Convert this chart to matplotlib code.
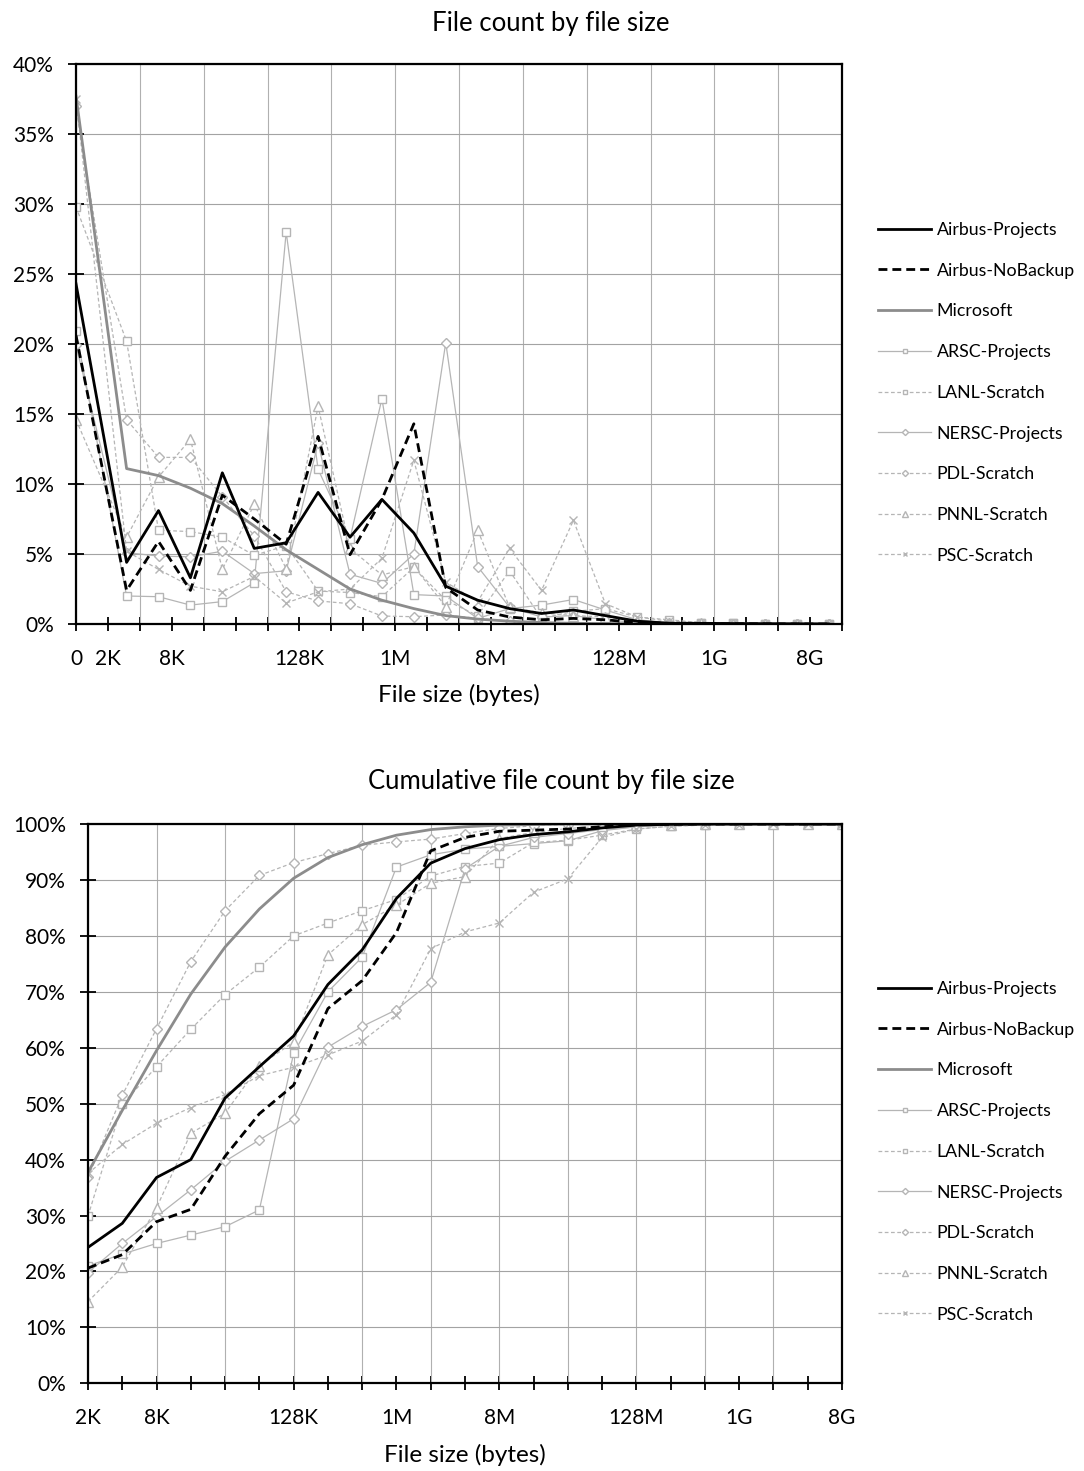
import numpy as np
import matplotlib.pyplot as plt
from matplotlib.ticker import PercentFormatter, NullFormatter

plt.rcParams['font.family'] = ['Lato', 'DejaVu Sans']

# series, in legend order
names = ['Airbus-Projects', 'Airbus-NoBackup', 'Microsoft', 'ARSC-Projects',
         'LANL-Scratch', 'NERSC-Projects', 'PDL-Scratch', 'PNNL-Scratch', 'PSC-Scratch']

# point positions in KB (first bin = small files, then bins 2K-4K, 4K-8K, ... plotted at 1.5x lower edge)
top_x_kb = [1, 3, 6, 12, 24, 48, 96, 192, 384, 768, 1536, 3072, 6144, 12288, 24576,
            49152, 98304, 196608, 393216, 786432, 1572864, 3145728, 6291456, 12582912]
bottom_x_kb = [2, 4, 8, 16, 32, 64, 128, 256, 512, 1024, 2048, 4096, 8192, 16384, 32768,
               65536, 131072, 262144, 524288, 1048576, 2097152, 4194304, 8388608]

# file count share per bin (%)
top_airbus_proj = [24.3, 4.4, 8.1, 3.3, 10.8, 5.4, 5.8, 9.4, 6.2, 8.9, 6.5, 2.7, 1.7, 1.1,
                   0.75, 1.0, 0.6, 0.2, 0.05, 0.05, 0.03, 0.02, 0.01, 0.0]
top_airbus_nob = [20.6, 2.4, 5.9, 2.4, 9.2, 7.5, 5.7, 13.4, 4.95, 8.9, 14.3, 2.6, 1.0, 0.5,
                  0.3, 0.4, 0.3, 0.1, 0.05, 0.02, 0.01, 0.01, 0.0, 0.0]
top_microsoft = [37.7, 11.1, 10.6, 9.7, 8.6, 7.0, 5.3, 3.9, 2.5, 1.7, 1.1, 0.6, 0.35, 0.2,
                 0.1, 0.05, 0.03, 0.02, 0.01, 0.0, 0.0, 0.0, 0.0, 0.0]
top_arsc = [20.9, 2.0, 1.95, 1.35, 1.6, 2.95, 28.0, 11.05, 6.1, 16.1, 2.1, 2.0, 0.4, 1.1,
            1.35, 1.75, 1.0, 0.3, 0.1, 0.1, 0.05, 0.02, 0.01, 0.0]
top_lanl = [29.8, 20.2, 6.7, 6.6, 6.2, 4.9, 5.6, 2.35, 2.25, 1.95, 4.05, 1.7, 0.6, 3.8,
            0.4, 0.9, 1.1, 0.5, 0.3, 0.1, 0.05, 0.02, 0.01, 0.0]
top_nersc = [19.9, 5.1, 4.85, 4.8, 5.2, 3.6, 3.8, 12.9, 3.55, 2.9, 5.0, 20.1, 4.1, 1.2,
             0.5, 0.6, 0.3, 0.1, 0.05, 0.02, 0.01, 0.0, 0.0, 0.0]
top_pdl = [37.0, 14.6, 11.9, 11.9, 9.1, 6.3, 2.3, 1.65, 1.45, 0.57, 0.52, 0.65, 0.4, 0.2,
           0.1, 0.05, 0.03, 0.02, 0.01, 0.0, 0.0, 0.0, 0.0, 0.0]
top_pnnl = [14.6, 6.2, 10.5, 13.2, 3.9, 8.55, 3.95, 15.55, 5.4, 3.5, 4.1, 1.25, 6.7, 1.2,
            0.8, 0.6, 0.5, 0.2, 0.1, 0.05, 0.02, 0.01, 0.0, 0.0]
top_psc = [37.5, 5.2, 3.9, 2.7, 2.3, 3.4, 1.5, 2.3, 2.5, 4.7, 11.7, 3.0, 1.6, 5.4,
           2.4, 7.4, 1.45, 0.5, 0.2, 0.1, 0.05, 0.02, 0.01, 0.0]

# cumulative file count (%)
cum_airbus_proj = [24.3, 28.6, 36.8, 40.0, 51.0, 56.6, 62.1, 71.3, 77.5, 86.7, 93.0, 95.6,
                   97.2, 98.1, 98.6, 99.3, 99.8, 99.95, 100, 100, 100, 100, 100]
cum_airbus_nob = [20.6, 23.0, 28.9, 31.1, 40.6, 48.2, 53.3, 67.0, 72.0, 80.6, 95.2, 97.6,
                  98.7, 98.9, 99.1, 99.5, 99.9, 99.95, 100, 100, 100, 100, 100]
cum_microsoft = [37.7, 48.8, 59.5, 69.6, 78.0, 84.8, 90.3, 94.0, 96.3, 98.0, 99.0, 99.5,
                 99.8, 99.9, 100, 100, 100, 100, 100, 100, 100, 100, 100]
cum_arsc = [21.0, 23.1, 25.0, 26.5, 28.0, 31.0, 59.0, 70.0, 76.2, 92.3, 94.5, 95.5, 96.0,
            96.5, 97.0, 98.8, 99.5, 99.9, 100, 100, 100, 100, 100]
cum_lanl = [29.9, 49.9, 56.6, 63.3, 69.5, 74.4, 80.0, 82.3, 84.5, 86.5, 90.7, 92.4, 93.0,
            96.7, 97.1, 98.0, 99.1, 99.6, 99.9, 100, 100, 100, 100]
cum_nersc = [19.8, 25.0, 29.8, 34.6, 39.7, 43.5, 47.3, 60.1, 63.8, 66.8, 71.7, 92.0, 96.0,
             97.6, 98.3, 99.0, 99.5, 99.8, 100, 100, 100, 100, 100]
cum_pdl = [36.8, 51.5, 63.4, 75.4, 84.5, 90.8, 93.1, 94.7, 96.2, 96.8, 97.3, 98.3, 99.2,
           99.7, 99.9, 100, 100, 100, 100, 100, 100, 100, 100]
cum_pnnl = [14.6, 20.8, 31.4, 44.7, 48.3, 56.8, 61.0, 76.6, 82.0, 85.5, 89.4, 90.6, 97.4,
            98.5, 99.2, 99.6, 99.8, 99.9, 100, 100, 100, 100, 100]
cum_psc = [37.5, 42.7, 46.5, 49.3, 51.6, 55.0, 56.5, 58.7, 61.2, 65.9, 77.7, 80.7, 82.3,
           87.8, 90.2, 97.6, 99.1, 99.6, 99.8, 99.9, 100, 100, 100]

top_data = [top_airbus_proj, top_airbus_nob, top_microsoft, top_arsc, top_lanl,
            top_nersc, top_pdl, top_pnnl, top_psc]
cum_data = [cum_airbus_proj, cum_airbus_nob, cum_microsoft, cum_arsc, cum_lanl,
            cum_nersc, cum_pdl, cum_pnnl, cum_psc]

# x tick labels (KB positions)
top_label_kb = [1, 2, 8, 128, 1024, 8192, 131072, 1048576, 8388608]
top_label_txt = ['0', '2K', '8K', '128K', '1M', '8M', '128M', '1G', '8G']
bot_label_kb = [2, 8, 128, 1024, 8192, 131072, 1048576, 8388608]
bot_label_txt = ['2K', '8K', '128K', '1M', '8M', '128M', '1G', '8G']

LIGHT = '#b5b5b5'
thin_dash = (0, (3, 2))
styles = {
    'Airbus-Projects': dict(color='black', lw=2.0, ls='-', marker=None, z=9),
    'Airbus-NoBackup': dict(color='black', lw=2.0, ls=(0, (3.2, 1.8)), marker=None, z=8),
    'Microsoft': dict(color='#8c8c8c', lw=2.0, ls='-', marker=None, z=7),
    'ARSC-Projects': dict(color=LIGHT, lw=0.9, ls='-', marker='s', ms=5.8, z=3),
    'LANL-Scratch': dict(color=LIGHT, lw=0.9, ls=thin_dash, marker='s', ms=5.8, z=3),
    'NERSC-Projects': dict(color=LIGHT, lw=0.9, ls='-', marker='D', ms=5.2, z=3),
    'PDL-Scratch': dict(color=LIGHT, lw=0.9, ls=thin_dash, marker='D', ms=5.2, z=3),
    'PNNL-Scratch': dict(color=LIGHT, lw=0.9, ls=thin_dash, marker='^', ms=7.0, z=3),
    'PSC-Scratch': dict(color=LIGHT, lw=0.9, ls=thin_dash, marker='x', ms=5.5, z=3),
}

W, H = 1084, 1471
fig = plt.figure(figsize=(W / 100, H / 100), dpi=100)
ax1 = fig.add_axes([76 / W, 1 - 624 / H, 766 / W, 560 / H])
ax2 = fig.add_axes([88 / W, 1 - 1383.3 / H, 754 / W, 559.3 / H])


def draw(ax, xs, data):
    for name, ys in zip(names, data):
        st = styles[name]
        kw = dict(color=st['color'], lw=st['lw'], ls=st['ls'], zorder=st['z'], label=name)
        if st['marker']:
            mfc = 'none' if st['marker'] == 'x' else 'white'
            kw.update(marker=st['marker'], ms=st['ms'], mfc=mfc, mec=st['color'], mew=1.0)
        ax.plot(xs, ys, **kw)


def style_axis(ax, lo_exp, hi_exp, grid_exps, lab_kb, lab_txt, ymax, ystep, leg_top):
    ax.set_xscale('log', base=2)
    ax.set_xlim(2 ** lo_exp, 2 ** hi_exp)
    ax.set_ylim(0, ymax)
    ax.xaxis.remove_overlapping_locs = False
    ticks = [2 ** k for k in range(lo_exp, hi_exp + 1)]
    labels = [lab_txt[lab_kb.index(t)] if t in lab_kb else '' for t in ticks]
    ax.set_xticks(ticks)
    ax.set_xticklabels(labels)
    ax.set_xticks([2 ** k for k in grid_exps], minor=True)
    ax.xaxis.set_minor_formatter(NullFormatter())
    ax.set_yticks(np.arange(0, ymax + 0.1, ystep))
    ax.yaxis.set_major_formatter(PercentFormatter(100, decimals=0))
    ax.grid(True, which='minor', axis='x', color='#b0b0b0', lw=0.8)
    ax.grid(True, which='major', axis='y', color='#a3a3a3', lw=0.8)
    ax.grid(False, which='major', axis='x')
    ax.set_axisbelow(True)
    ax.tick_params(axis='x', which='minor', length=0)
    ax.tick_params(axis='x', which='major', direction='inout', length=10, width=1.3,
                   labelsize=15, pad=13)
    ax.tick_params(axis='y', direction='inout', length=11, width=1.3, labelsize=15, pad=10.5)
    for sp in ax.spines.values():
        sp.set_linewidth(1.6)
        sp.set_color('black')
        sp.set_zorder(10)
    ax.set_xlabel('File size (bytes)', fontsize=17.5, labelpad=11)
    ax.legend(loc='upper left', bbox_to_anchor=(878 / W, 1 - leg_top / H),
              bbox_transform=fig.transFigure,
              frameon=False, fontsize=12.8, handlelength=3.0, handletextpad=0.3,
              labelspacing=1.39, markerscale=0.6, borderpad=0, borderaxespad=0)


draw(ax1, top_x_kb, top_data)
style_axis(ax1, 0, 24, range(0, 25, 2), top_label_kb, top_label_txt, 40, 5, 222)

draw(ax2, bottom_x_kb, cum_data)
style_axis(ax2, 1, 23, range(1, 24, 2), bot_label_kb, bot_label_txt, 100, 10, 981)

fig.text(551 / W, 1 - 23 / H, 'File count by file size', ha='center', va='center',
         fontsize=18.5)
fig.text(551 / W, 1 - 782 / H, 'Cumulative file count by file size', ha='center',
         va='center', fontsize=18.5)

fig.savefig('out.png', dpi=100)
